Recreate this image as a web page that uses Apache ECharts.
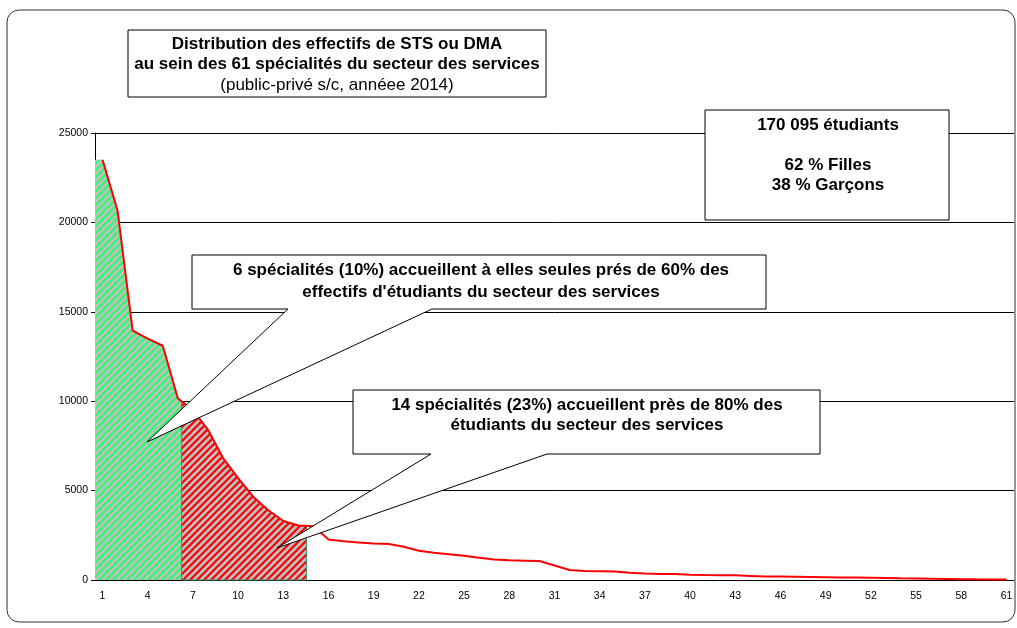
<!DOCTYPE html>
<html>
<head>
<meta charset="utf-8">
<script src="https://cdn.jsdelivr.net/npm/echarts@6/dist/echarts.min.js"></script>
<style>
html,body{margin:0;padding:0;background:#fff;}
#chart{width:1017px;height:628px;}
</style>
</head>
<body>
<div id="chart"></div>
<script>
// ---- data ----
const categories = Array.from({length: 61}, (_, i) => String(i + 1));
const students = [
  23500, 20650, 13950, 13500, 13100, 10150, 9500, 8400, 6820, 5700,
  4660, 3900, 3300, 3050, 3000, 2270, 2170, 2100, 2040, 2010,
  1860, 1640, 1520, 1440, 1350, 1250, 1150, 1100, 1080, 1060,
  810, 560, 510, 490, 470, 400, 360, 340, 330, 300,
  280, 270, 260, 230, 200, 190, 180, 170, 160, 145,
  135, 125, 110, 95, 85, 75, 60, 45, 35, 30, 25
];
const yMin = 0, yMax = 25000, yStep = 5000;
// hatched zones, in category units (1 = first speciality)
const hatchRanges = [[0.5, 6.25], [6.25, 14.54]];
const titleLines = ['Distribution des effectifs de STS ou DMA', 'au sein des 61 spécialités du secteur des services'];
const subtitleLine = '(public-privé s/c, annéee 2014)';
const totalLines = ['170 095 étudiants', '62 % Filles', '38 % Garçons'];
const callout1Lines = ['6 spécialités (10%) accueillent à elles seules prés de 60% des', "effectifs d'étudiants du secteur des services"];
const callout2Lines = ['14 spécialités (23%) accueillent près de 80% des', 'étudiants du secteur des services'];

// ---- patterns ----
function makeHatch(stripe, w) {
  const s = 7;
  const c = document.createElement('canvas');
  c.width = s; c.height = s;
  const g = c.getContext('2d');
  g.fillStyle = '#bfbfbf';
  g.fillRect(0, 0, s, s);
  g.strokeStyle = stripe;
  g.lineWidth = w;
  g.beginPath();
  g.moveTo(-1, s + 1); g.lineTo(s + 1, -1);
  g.moveTo(-1, 1); g.lineTo(1, -1);
  g.moveTo(s - 1, s + 1); g.lineTo(s + 1, s - 1);
  g.stroke();
  return {image: c, repeat: 'repeat'};
}
const hatchFills = [makeHatch('#22ff66', 2), makeHatch('#ff0000', 2.2)];
const hatchStrokes = ['rgba(0,0,0,0)', '#3f8f66'];

function interp(x) {
  if (x <= 1) return students[0];
  if (x >= students.length) return students[students.length - 1];
  const i = Math.floor(x), f = x - i;
  return students[i - 1] * (1 - f) + students[i] * f;
}

const FONT = "'Liberation Sans', Arial, sans-serif";
function txt(str, x, y, size, weight) {
  return {type: 'text', x: x, y: y, z: 20, silent: true,
    style: {text: str, align: 'center', verticalAlign: 'middle', fill: '#000',
      fontFamily: FONT, fontSize: size, fontWeight: weight}};
}

const chart = echarts.init(document.getElementById('chart'), null, {renderer: 'canvas'});
chart.setOption({
  animation: false,
  backgroundColor: '#ffffff',
  grid: {left: 95, right: 3, top: 133, bottom: 48, containLabel: false},
  xAxis: [{
    type: 'category', data: categories, boundaryGap: true,
    axisLine: {lineStyle: {color: '#000', width: 1}},
    axisTick: {interval: 0, length: 4, lineStyle: {color: '#000'}},
    axisLabel: {interval: 2, color: '#000', fontFamily: FONT, fontSize: 10.5, margin: 11},
    splitLine: {show: false}
  }, {
    type: 'value', min: 0.5, max: 61.5, show: false
  }],
  yAxis: {
    type: 'value', min: yMin, max: yMax, interval: yStep,
    axisLine: {show: true, lineStyle: {color: '#000', width: 1}},
    axisTick: {show: true, length: 4, lineStyle: {color: '#000'}},
    axisLabel: {color: '#000', fontFamily: FONT, fontSize: 10.5, margin: 7,
      formatter: function (v) { return String(v); }},
    splitLine: {show: true, lineStyle: {color: '#000', width: 1}}
  },
  series: [{
    type: 'custom', xAxisIndex: 1, yAxisIndex: 0, z: 3, silent: true,
    data: hatchRanges,
    renderItem: function (params, api) {
      const from = api.value(0), to = api.value(1);
      const pts = [api.coord([from, 0]), api.coord([from, interp(from)])];
      for (let k = Math.ceil(from); k < to; k++) {
        if (k > from) pts.push(api.coord([k, students[k - 1]]));
      }
      pts.push(api.coord([to, interp(to)]));
      pts.push(api.coord([to, 0]));
      return {type: 'polygon', shape: {points: pts},
        style: {fill: hatchFills[params.dataIndex], stroke: hatchStrokes[params.dataIndex], lineWidth: 1}};
    }
  }, {
    type: 'line', xAxisIndex: 0, yAxisIndex: 0, z: 5, silent: true,
    data: students, symbol: 'none', smooth: false,
    lineStyle: {color: '#ff0000', width: 2}
  }],
  graphic: {elements: [
    {type: 'rect', z: 1, silent: true, shape: {x: 7, y: 10, width: 1008, height: 612, r: 12},
      style: {fill: 'none', stroke: '#333', lineWidth: 1}},
    // title box
    {type: 'rect', z: 15, silent: true, shape: {x: 128, y: 30, width: 418, height: 67},
      style: {fill: '#fff', stroke: '#000', lineWidth: 1}},
    txt(titleLines[0], 337, 44, 17, 'bold'),
    txt(titleLines[1], 337, 64, 17, 'bold'),
    txt(subtitleLine, 337, 85, 17, 'normal'),
    // totals box
    {type: 'rect', z: 15, silent: true, shape: {x: 705, y: 110, width: 244, height: 110},
      style: {fill: '#fff', stroke: '#000', lineWidth: 1}},
    txt(totalLines[0], 828, 125, 17, 'bold'),
    txt(totalLines[1], 828, 165, 17, 'bold'),
    txt(totalLines[2], 828, 185, 17, 'bold'),
    // callout 1
    {type: 'polygon', z: 15, silent: true,
      shape: {points: [[192, 255], [766, 255], [766, 309], [432, 309], [147, 442], [288, 309], [192, 309]]},
      style: {fill: '#fff', stroke: '#000', lineWidth: 1}},
    txt(callout1Lines[0], 481, 270, 17, 'bold'),
    txt(callout1Lines[1], 481, 292, 17, 'bold'),
    // callout 2
    {type: 'polygon', z: 15, silent: true,
      shape: {points: [[353, 390], [820, 390], [820, 454], [547, 454], [277, 548], [431, 454], [353, 454]]},
      style: {fill: '#fff', stroke: '#000', lineWidth: 1}},
    txt(callout2Lines[0], 587, 405, 17, 'bold'),
    txt(callout2Lines[1], 587, 425, 17, 'bold')
  ]}
});
</script>
</body>
</html>
